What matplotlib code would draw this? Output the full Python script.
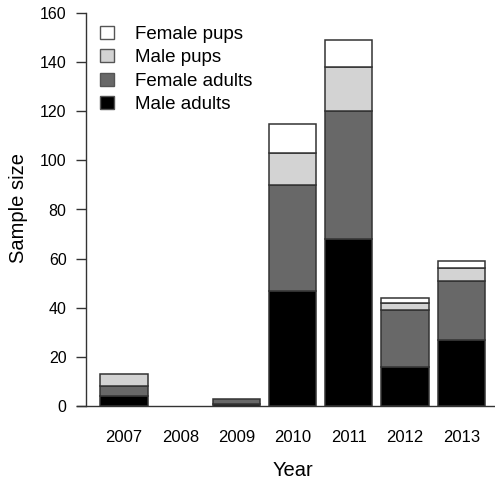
import numpy as np
import matplotlib
matplotlib.use("Agg")
import matplotlib.pyplot as plt
from matplotlib.patches import Patch
from matplotlib.lines import Line2D

plt.rcParams['font.family'] = ['Liberation Sans', 'DejaVu Sans']

years = ['2007', '2008', '2009', '2010', '2011', '2012', '2013']
male_adults = [4, 0, 1, 47, 68, 16, 27]
female_adults = [4, 0, 2, 43, 52, 23, 24]
male_pups = [5, 0, 0, 13, 18, 3, 5]
female_pups = [0, 0, 0, 12, 11, 2, 3]

series = [("Male adults", male_adults, "black"),
          ("Female adults", female_adults, "#686868"),
          ("Male pups", male_pups, "#d3d3d3"),
          ("Female pups", female_pups, "white")]

fig = plt.figure(figsize=(4.95, 4.84), dpi=100)
ax = fig.add_axes([86 / 495, 78 / 484, 409 / 495, 393 / 484])

x = np.arange(len(years))
bottom = np.zeros(len(years))
edge = "#333333"
for name, vals, col in series:
    vals = np.asarray(vals, dtype=float)
    mask = vals > 0
    ax.bar(x[mask], vals[mask], bottom=bottom[mask], width=0.84,
           color=col, edgecolor=edge, linewidth=1.1)
    bottom += vals

ax.set_xlim(-0.676, 6.60)
ax.set_ylim(0, 160)
ax.set_yticks(np.arange(0, 161, 20))
ax.set_xticks(x)
ax.set_xticklabels(years)

for s in ['top', 'right', 'bottom']:
    ax.spines[s].set_visible(False)
ax.spines['left'].set_color(edge)
ax.spines['left'].set_linewidth(1.0)

# baseline line, extends a bit left of the y axis
ax.add_line(Line2D([-9 / 409, 1], [0, 0], transform=ax.transAxes,
                   color=edge, lw=1.0, clip_on=False))

ax.tick_params(axis='y', length=7, width=1.0, color=edge, pad=7, labelsize=11.5)
ax.tick_params(axis='x', length=0, pad=17, labelsize=12)

ax.set_ylabel("Sample size", fontsize=14.5, va='center')
ax.yaxis.set_label_coords(-0.166, 0.504)
ax.set_xlabel("Year", fontsize=14.5, va='center')
ax.xaxis.set_label_coords(0.506, -0.163)

handles = [Patch(facecolor=col, edgecolor="#555555", linewidth=1.0, label=name)
           for name, vals, col in series[::-1]]
ax.legend(handles=handles, loc='upper left', bbox_to_anchor=(100 / 495, 1 - 26 / 484),
          bbox_transform=fig.transFigure, frameon=False, fontsize=13.5,
          handlelength=0.75, handleheight=0.7, handletextpad=1.1,
          labelspacing=0.33, borderpad=0, borderaxespad=0)

fig.savefig("out.png", dpi=100)
